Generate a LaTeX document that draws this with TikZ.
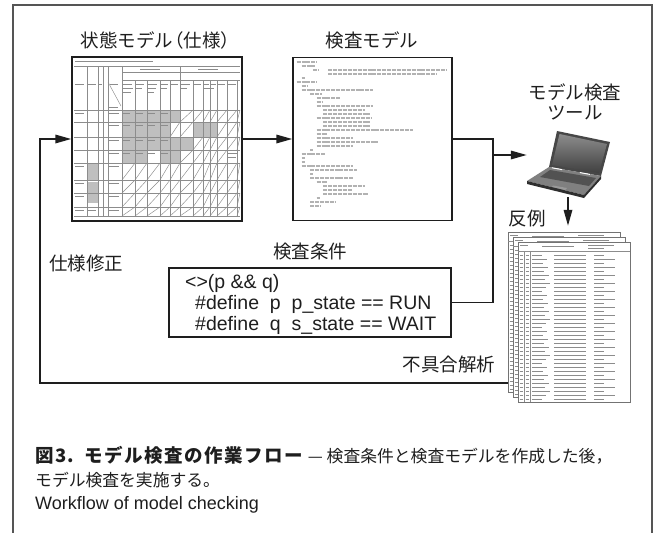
\documentclass[tikz,border=0pt]{standalone}
\usepackage{fontspec}
\setmainfont{Liberation Sans}
\newfontfamily\jpfont{Noto Sans CJK JP}
\usetikzlibrary{arrows.meta}
\definecolor{ink}{HTML}{1E1E1E}
\definecolor{framecol}{HTML}{555555}

\begin{document}
\begin{tikzpicture}[x=1pt, y=-1pt,
  flow/.style={line width=1.7pt, draw=ink},
  arr/.style={flow, -{Triangle[length=16pt,width=8.5pt]}},
  shot/.style={draw=ink, line width=1.5pt, fill=white, inner sep=0pt},
  condbox/.style={draw=ink, line width=1.3pt, fill=white, inner sep=0pt},
  lbl/.style={font=\jpfont\fontsize{18.5pt}{19.5pt}\selectfont, text=ink, inner sep=0pt},
  captext/.style={font=\jpfont\fontsize{16.8pt}{19pt}\selectfont, text=ink, inner sep=0pt, anchor=west},
  tgrid/.style={draw=black!45, line width=0.45pt},
  thatch/.style={draw=black!45, line width=0.45pt},
  tbar/.style={draw=black!45, line width=0.8pt},
  codeln/.style={draw=black!30, line width=1.6pt, dash pattern=on 4pt off 0.9pt},
]
\useasboundingbox (0,0) rectangle (659,533);

% outer frame, open at the bottom
\draw[framecol, line width=1.1pt] (13,533) -- (13,5) -- (652,5) -- (652,533);

% ---------- main blocks ----------
\node[shot, minimum width=170pt, minimum height=164pt] (tbl) at (157,139) {};
\node[shot, minimum width=159pt, minimum height=163pt] (code) at (372.5,139) {};
\node[condbox, minimum width=282pt, minimum height=69pt] (cond) at (310,302.5) {};
\node[inner sep=0pt, minimum width=82pt, minimum height=66pt] (laptop) at (568,164) {};
\node[inner sep=0pt, minimum width=122pt, minimum height=171pt] (stack) at (569,317.5) {};

% ---------- state table (specification) ----------
\begin{scope}
  % shaded cells
  \fill[black!25] (122,110) rectangle (180,122);
  \fill[black!25] (122,122) rectangle (170,137);
  \fill[black!25] (193,122) rectangle (217,137);
  \fill[black!25] (122,137) rectangle (193,150);
  \fill[black!25] (122,150) rectangle (147,163);
  \fill[black!25] (160,150) rectangle (180,163);
  \fill[black!25] (87,163) rectangle (98,180);
  \fill[black!25] (87,182) rectangle (98,203);
  % hatched (not applicable) cells
  \foreach \ya/\yb in {163/180,180/193,193/207,207/216}
    \foreach \xa/\xb in {122/135,135/147,147/160,160/170,170/180,180/193,193/203,203/210,210/217,217/227,227/237,237/240}
      \draw[thatch] (\xa,\yb) -- (\xb,\ya);
  \foreach \xa/\xb in {180/193,193/203,203/210,210/217,217/227,227/237,237/240}
    \draw[thatch] (\xa,122) -- (\xb,110);
  \foreach \xa/\xb in {170/180,180/193,217/227,227/237,237/240}
    \draw[thatch] (\xa,137) -- (\xb,122);
  \foreach \xa/\xb in {193/203,203/210,210/217,217/227,227/237,237/240}
    \draw[thatch] (\xa,150) -- (\xb,137);
  \foreach \xa/\xb in {180/193,193/203,203/210,210/217,217/227}
    \draw[thatch] (\xa,163) -- (\xb,150);
  % ruling
  \draw[tgrid] (74,66) -- (240,66);
  \draw[tgrid] (122,72) -- (240,72);
  \draw[tgrid] (122,80) -- (240,80);
  \foreach \y in {110,122,137,150,163,180,193,207,216}
    \draw[tgrid] (74,\y) -- (240,\y);
  \foreach \x in {87,98,103,108,122,180}
    \draw[tgrid] (\x,66) -- (\x,216);
  \foreach \x in {135,147,160,170,193,203,210,217,227,237}
    \draw[tgrid] (\x,80) -- (\x,216);
  \draw[tgrid] (108,82) -- (121,106);
  % cell text
  \draw[tbar] (75,61.5) -- (153,61.5);
  \foreach \x/\l in {75/9,88/8,99/3,110/8,123/9,136/8,148/9,161/7,171/7,181/9,194/7,204/5,211/5,218/7,228/8}
    \draw[tbar] (\x,84) -- (\x+\l,84);
  \foreach \x/\l in {123/10,136/6,148/8,161/6,181/6,204/10}
    \draw[tbar] (\x,88) -- (\x+\l,88);
  \foreach \x/\l in {123/8,148/6}
    \draw[tbar] (\x,92) -- (\x+\l,92);
  \draw[tbar] (140,69) -- (160,69);
  \draw[tbar] (198,69) -- (218,69);
  \draw[tbar] (109,107) -- (118,107);
  \foreach \y in {113,125,140,153}
    \foreach \x in {123,136,148,161}
      \draw[tbar] (\x,\y) -- (\x+7,\y);
  \foreach \y in {113,125,140,153,166,183,196}
    \draw[tbar] (109,\y) -- (119,\y);
  \foreach \y in {113,166,183,196,210}
    \draw[tbar] (75,\y) -- (84,\y);
  \draw[tbar] (228,153) -- (238,153);
  \draw[tbar] (228,157) -- (236,157);
  \draw[tbar] (88,210) -- (96,210);
  \draw[tbar] (109,210) -- (119,210);
\end{scope}

% ---------- verification model source ----------
\begin{scope}
  \foreach \i/\a/\b in {1/20/80, 2/35/75, 3/70/85, 3/115/470, 4/115/440, 5/35/45,
      6/20/80, 7/35/55, 8/35/250, 9/60/95, 10/80/150, 11/80/100, 12/80/250,
      13/100/225, 14/100/240, 15/80/245, 16/100/240, 17/100/240, 18/80/370,
      19/80/110, 20/80/190, 21/80/265, 22/80/190, 23/60/70, 24/35/105, 25/35/45,
      26/35/45, 27/35/190, 28/60/200, 29/60/70, 30/60/190, 31/80/110,
      32/100/225, 33/100/185, 34/100/235, 35/80/90, 36/60/135, 37/60/90}
    \draw[codeln] (290+\a/3, 58+4*\i) -- (290+\b/3, 58+4*\i);
\end{scope}

% ---------- model checker (laptop) ----------
\begin{scope}
  \fill[black!72] (557,131) -- (610,142) -- (601,176) -- (549,167) -- cycle;
  \shade[top color=black!45, bottom color=black!75]
    (559.5,134) -- (607,144) -- (599,173) -- (552,165) -- cycle;
  \fill[black!50] (549,167) -- (601,176) -- (584,195) -- (527,181) -- cycle;
  \fill[black!68] (550,170) -- (596,178) -- (589,186) -- (540,177) -- cycle;
  \fill[black!40] (553,185.5) -- (567,188) -- (564,191.5) -- (550,189) -- cycle;
  \fill[black!82] (527,181) -- (584,195) -- (584,198) -- (527,184) -- cycle;
  \fill[black!82] (584,195) -- (601,176) -- (601,179) -- (584,198) -- cycle;
  \draw[white, line width=1pt] (552,167.8) -- (562,169.6);
  \draw[white, line width=1pt] (580,172.6) -- (590,174.4);
\end{scope}

% ---------- counterexample printouts ----------
\foreach \i in {0,1,2} {
  \begin{scope}[shift={(508+5*\i,232+5*\i)}]
    \fill[white] (0,0) rectangle (112,160);
    \draw[black!55, line width=0.6pt] (0,0) rectangle (112,160);
    \draw[tbar] (2,3) -- (10,3);
    \draw[tbar] (24,4) -- (56,4);
    \draw[tbar] (70,3) -- (96,3);
    \draw[tbar] (70,6) -- (86,6);
    \draw[black!45, line width=0.4pt] (0,9) -- (112,9);
    \draw[black!45, line width=0.4pt] (6,9) -- (6,160);
    \draw[black!45, line width=0.4pt] (12,9) -- (12,160);
    \foreach \k in {0,...,36} {
      \pgfmathsetmacro\yy{13+4*\k}
      \pgfmathsetmacro\lb{24+mod(\k*5,9)}
      \pgfmathsetmacro\ld{86+mod(\k*11,22)}
      \draw[tbar] (1.5,\yy) -- (4.5,\yy);
      \draw[tbar] (7.5,\yy) -- (10.5,\yy);
      \draw[tbar] (14,\yy) -- (\lb,\yy);
      \draw[tbar] (36,\yy) -- (68,\yy);
      \draw[tbar] (76,\yy) -- (\ld,\yy);
    }
  \end{scope}
}

% ---------- connectors ----------
\coordinate (jx) at (493,0);
\coordinate (tap) at (493,155);
\coordinate (fb) at (40,383);
\draw[arr] (tbl.east) -- (tbl.east -| code.west);
\draw[flow] (code.east) -- (code.east -| jx) -- (cond.east -| jx) -- (cond.east);
\draw[arr] (tap) -- (tap -| laptop.west);
\draw[arr, shorten >=6pt] (laptop.south) -- (laptop.south |- stack.north);
\draw[arr] (stack.west |- fb) -- (fb) -- (fb |- tbl.west) -- (tbl.west);

% ---------- labels ----------
\node[lbl] (tblt) at (160,40) {状態モデル\kern-0.45em（仕様）};
\node[lbl] (codet) at (372,40) {検査モデル};
\node[lbl, align=center] (lapt) at (575,102) {モデル検査\\ツール};
\node[lbl] (stackt) at (527,219) {反例};
\node[lbl] (condt) at (310,251) {検査条件};
\node[lbl] (fixt) at (86,263) {仕様修正};
\node[lbl] (anat) at (449,364) {不具合解析};
\node[anchor=west, font=\fontsize{19.5pt}{21pt}\selectfont, text=ink, align=left, inner sep=0pt]
  (condtxt) at (185,304)
  {<>(p \&\& q)\\
   \hspace*{10pt}\#define\ \ p\ \ p\_state == RUN\\
   \hspace*{10pt}\#define\ \ q\ \ s\_state == WAIT};

% ---------- caption ----------
\node[captext] (cap1) at (35,455)
  {{\fontsize{18.5pt}{20pt}\selectfont\bfseries\addfontfeature{LetterSpace=8}図3.\hspace{0.55em}モデル検査の作業フロー}\hspace{0.3em}— 検査条件と検査モデルを作成した後，};
\node[captext] (cap2) at (35,480) {モデル検査を実施する。};
\node[anchor=west, inner sep=0pt, text=ink, font=\fontsize{18pt}{21pt}\selectfont] (cap3) at (35,505) {Workflow of model checking};
\end{tikzpicture}
\end{document}
